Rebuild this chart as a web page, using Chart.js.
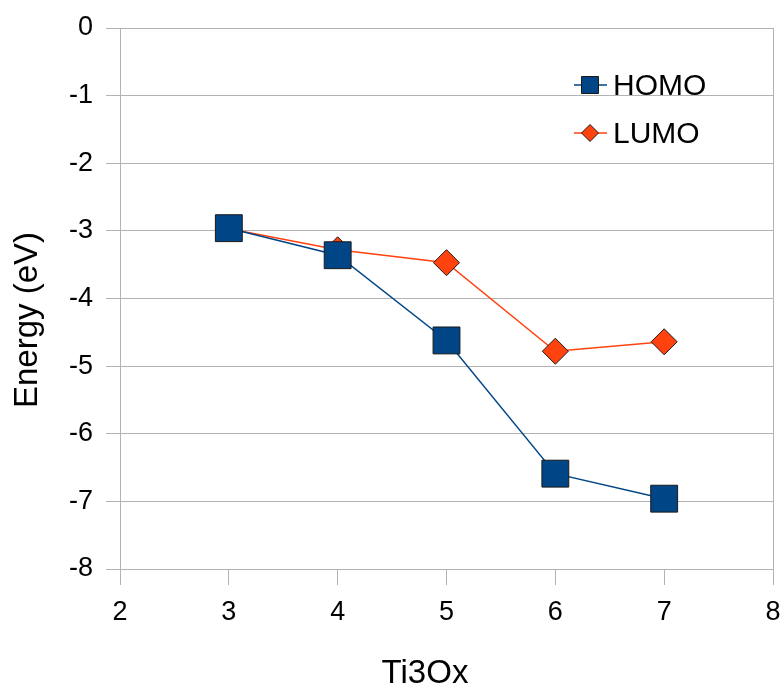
<!DOCTYPE html>
<html>
<head>
<meta charset="utf-8">
<script src="https://cdn.jsdelivr.net/npm/chart.js@4/dist/chart.umd.min.js"></script>
<style>
  body { margin: 0; background: #fff; }
  #wrap { width: 783px; height: 687px; }
</style>
</head>
<body>
<div id="wrap"><canvas id="myChart" width="783" height="687"></canvas></div>
<script>
// values
const xValues = [3, 4, 5, 6, 7]
const homo = [-2.96, -3.36, -4.62, -6.59, -6.96]
const lumo = [-2.97, -3.28, -3.47, -4.78, -4.64]
const seriesNames = ['HOMO', 'LUMO']
const xTitle = 'Ti3Ox'
const yTitle = 'Energy (eV)'

const gridGray = '#b3b3b3'
const fontFamily = '"Liberation Sans", Arial, sans-serif'

const toPoints = (ys) => xValues.map((x, i) => ({ x: x, y: ys[i] }))

// pin the plot area to the same box as the original
const fixArea = {
  id: 'fixArea',
  afterLayout(chart) {
    const area = chart.chartArea
    area.top = 28
    area.right = 773
    area.width = area.right - area.left
    area.height = area.bottom - area.top
    const x = chart.scales.x
    x.right = area.right
    x.width = x.right - x.left
    x.configure()
    const y = chart.scales.y
    y.top = area.top
    y.height = y.bottom - y.top
    y.configure()
  }
}

// titles and legend are drawn by hand so they land where the original has them
const extras = {
  id: 'extras',
  afterDraw(chart) {
    const ctx = chart.ctx
    ctx.save()
    ctx.fillStyle = '#000'
    ctx.font = '33px ' + fontFamily
    ctx.textAlign = 'center'
    ctx.textBaseline = 'middle'
    ctx.fillText(xTitle, 425, 674)
    ctx.translate(28, 320)
    ctx.rotate(-Math.PI / 2)
    ctx.fillText(yTitle, 0, 0)
    ctx.restore()

    const rows = [
      { y: 85, ds: chart.data.datasets[0], r: 12 },
      { y: 133, ds: chart.data.datasets[1], r: 8.5 }
    ]
    ctx.save()
    rows.forEach(row => {
      ctx.strokeStyle = row.ds.borderColor
      ctx.lineWidth = 1.5
      ctx.beginPath()
      ctx.moveTo(574, row.y)
      ctx.lineTo(607, row.y)
      ctx.stroke()
      ctx.fillStyle = row.ds.pointBackgroundColor
      ctx.strokeStyle = row.ds.pointBorderColor
      ctx.lineWidth = 1
      Chart.helpers.drawPoint(ctx, { pointStyle: row.ds.pointStyle, radius: row.r, borderWidth: 1 }, 590, row.y)
      ctx.fillStyle = '#000'
      ctx.font = '30px ' + fontFamily
      ctx.textAlign = 'left'
      ctx.textBaseline = 'middle'
      ctx.fillText(row.ds.label, 613, row.y + 2)
    })
    ctx.restore()
  }
}

const chartCtx = document.getElementById('myChart').getContext('2d')
const myChart = new Chart(chartCtx, {
  type: 'scatter',
  data: {
    datasets: [{
      label: seriesNames[0],
      data: toPoints(homo),
      showLine: true,
      borderColor: '#004586',
      borderWidth: 1.5,
      pointStyle: 'rect',
      pointRadius: 19,
      pointBackgroundColor: '#004586',
      pointBorderColor: '#1a1a1a',
      pointBorderWidth: 1
    }, {
      label: seriesNames[1],
      data: toPoints(lumo),
      showLine: true,
      borderColor: '#ff420e',
      borderWidth: 1.5,
      pointStyle: 'rectRot',
      pointRadius: 13,
      pointBackgroundColor: '#ff420e',
      pointBorderColor: '#1a1a1a',
      pointBorderWidth: 1,
      order: 1
    }]
  },
  options: {
    responsive: false,
    animation: false,
    layout: { padding: { left: 0, top: 28, right: 0, bottom: 0 } },
    plugins: {
      legend: { display: false },
      tooltip: { enabled: false }
    },
    scales: {
      x: {
        type: 'linear',
        min: 2,
        max: 8,
        ticks: { stepSize: 1, color: '#000', padding: 11, font: { family: fontFamily, size: 27 } },
        grid: {
          color: (c) => (c.index === 0 || c.index === 6) ? gridGray : 'rgba(0,0,0,0)',
          tickColor: gridGray,
          tickLength: 16
        },
        border: { color: gridGray },
        afterFit: (scale) => { scale.height = 118 }
      },
      y: {
        min: -8,
        max: 0,
        ticks: { stepSize: 1, color: '#000', padding: 13, font: { family: fontFamily, size: 27 } },
        grid: { color: gridGray, tickColor: gridGray, tickLength: 14 },
        border: { color: gridGray },
        afterFit: (scale) => { scale.width = 120 }
      }
    }
  },
  plugins: [fixArea, extras]
})
</script>
</body>
</html>
